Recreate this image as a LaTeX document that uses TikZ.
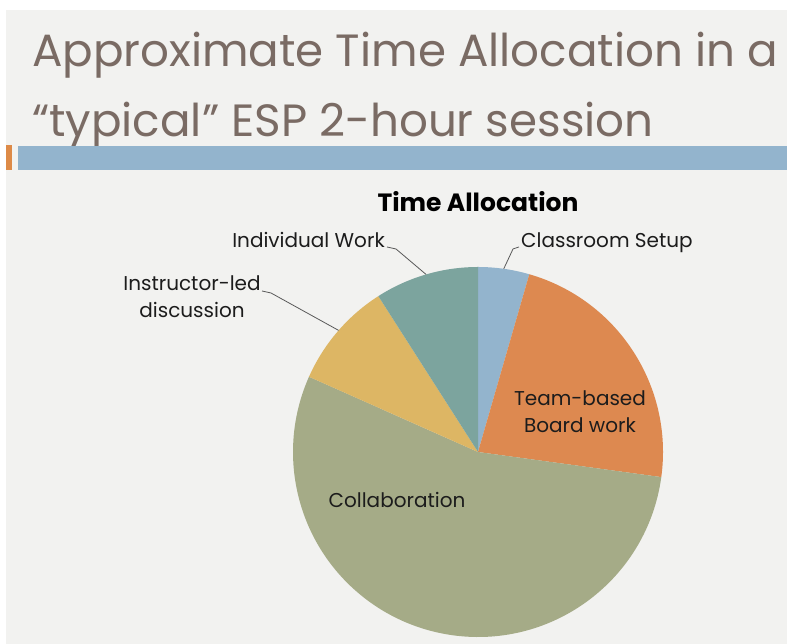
\documentclass[tikz,border=0pt]{standalone}
\usepackage{fontspec}
\setmainfont{Poppins}
\usetikzlibrary{positioning}
\definecolor{slidebg}{HTML}{F2F2F0}
\definecolor{titlebrown}{HTML}{7A6B64}
\definecolor{barblue}{HTML}{93B4CD}
\definecolor{barorange}{HTML}{DD8A47}
\definecolor{setupblue}{HTML}{93B4CD}
\definecolor{teamorange}{HTML}{DD8950}
\definecolor{collabgreen}{HTML}{A5AB87}
\definecolor{instryellow}{HTML}{DDB664}
\definecolor{indivteal}{HTML}{7CA49E}
\definecolor{labelgray}{HTML}{1C1C1C}

\begin{document}
\begin{tikzpicture}[x=1pt, y=1pt, every node/.style={inner sep=0pt},
  slidetitle/.style={font=\fontsize{45.2}{70}\selectfont, text=titlebrown, anchor=base west},
  chartlabel/.style={font=\fontsize{20}{27}\selectfont, text=labelgray, align=center},
  leader/.style={draw=black!65, line width=0.8pt}]
\useasboundingbox (0,0) rectangle (787,644);
\fill[white] (0,0) rectangle (787,644);
\fill[slidebg] (6,0) rectangle (787,634);

% slide title and bar
\node[slidetitle] (title1) at (32,577) {Approximate Time Allocation in a};
\node[slidetitle] (title2) at (32,507) {“typical” ESP 2-hour session};
\fill[barorange] (6,474) rectangle (12,499);
\fill[barblue] (18,474) rectangle (787,498);

% pie
\coordinate (c) at (478,192);
\fill[setupblue] (c) -- ++(90:185) arc[start angle=90, end angle=73.9, radius=185] -- cycle;
\fill[teamorange] (c) -- ++(73.9:185) arc[start angle=73.9, end angle=-7.8, radius=185] -- cycle;
\fill[collabgreen] (c) -- ++(-7.8:185) arc[start angle=-7.8, end angle=-204, radius=185] -- cycle;
\fill[instryellow] (c) -- ++(156:185) arc[start angle=156, end angle=122.6, radius=185] -- cycle;
\fill[indivteal] (c) -- ++(122.6:185) arc[start angle=122.6, end angle=90, radius=185] -- cycle;
\path (c) ++(106.3:185) coordinate (indivedge);
\path (c) ++(82:185) coordinate (setupedge);
\path (c) ++(138.9:185) coordinate (instredge);

% labels
\node[font=\bfseries\fontsize{25}{30}\selectfont, anchor=base] (charttitle) at (478,432) {Time Allocation};
\node[chartlabel, anchor=base east] (indiv) at (385,396) {Individual Work};
\node[chartlabel, anchor=base west] (setup) at (521,396) {Classroom Setup};
\node[chartlabel, anchor=base] (instr) at (192,326) {Instructor-led\\discussion};
\node[chartlabel, anchor=base] (team) at (580,211) {Team-based\\Board work};
\node[chartlabel, anchor=base] (collab) at (397,136) {Collaboration};

% leader lines
\draw[leader] (indiv.base east) ++(2,1) -- ++(9,-2) -- (indivedge);
\draw[leader] (setup.base west) ++(-2,1) -- ++(-6,-2) -- (setupedge);
\draw[leader] (262,353) -- ++(9,-2) -- (instredge);
\end{tikzpicture}
\end{document}
